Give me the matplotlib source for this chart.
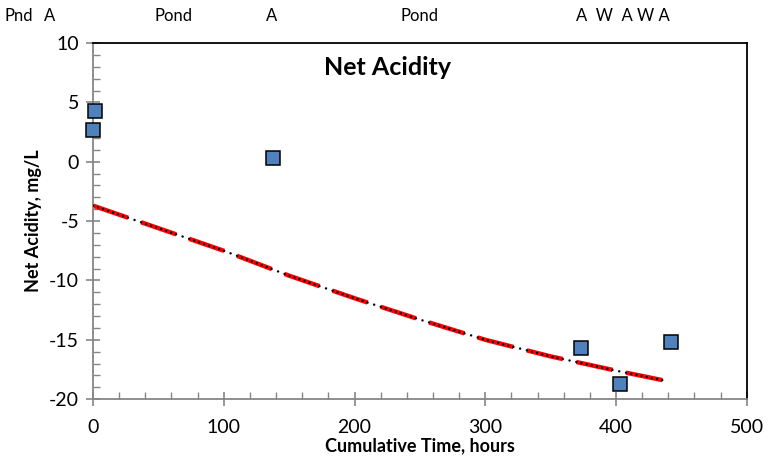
import numpy as np
import matplotlib.pyplot as plt
from matplotlib.ticker import MultipleLocator

plt.rcParams['font.family'] = ['Lato', 'DejaVu Sans']
plt.rcParams['lines.scale_dashes'] = False
plt.rcParams['axes.unicode_minus'] = False

# measured net acidity
time_h = [1.5, 0, 138, 373, 403, 442]
acidity = [4.3, 2.7, 0.35, -15.7, -18.7, -15.2]

# trend line
trend_t = [0, 50, 100, 150, 200, 250, 300, 350, 400, 440]
trend_y = [-3.7, -5.6, -7.5, -9.6, -11.5, -13.3, -15.0, -16.4, -17.6, -18.5]

# treatment labels along the top
phase_labels = ['Pnd', 'A', 'Pond', 'A', 'Pond', 'A  W  A W A']
phase_px = [5, 44, 155, 266, 400, 576]

fig = plt.figure(figsize=(7.69, 4.63), dpi=100)
ax = fig.add_axes([0.121, 0.138, 0.850, 0.769])

# red dashes with black dots on top (same period: 36.6 pt)
ax.plot(trend_t, trend_y, color='#ff0000', lw=3.2, dashes=(26.7, 9.9),
        solid_capstyle='butt', dash_capstyle='butt', zorder=2)
ax.plot(trend_t, trend_y, color='black', lw=1.8,
        dashes=[0.01, 3.79] * 7 + [0.01, 4.99, 0.01, 4.99],
        dash_capstyle='round', zorder=3)

ax.plot(time_h, acidity, 's', ms=10.5, mfc='#4f81bd', mec='black',
        mew=1.1, zorder=4, clip_on=False)

ax.set_xlim(0, 500)
ax.set_ylim(-20, 10)
ax.xaxis.set_major_locator(MultipleLocator(100))
ax.xaxis.set_minor_locator(MultipleLocator(20))
ax.yaxis.set_major_locator(MultipleLocator(5))
ax.yaxis.set_minor_locator(MultipleLocator(1))

gray = '#868686'
for s in ['left', 'bottom']:
    ax.spines[s].set_color(gray)
    ax.spines[s].set_linewidth(1.3)
for s in ['top', 'right']:
    ax.spines[s].set_color('black')
    ax.spines[s].set_linewidth(1.3)

ax.tick_params(which='major', direction='inout', length=10, width=1.2,
               color=gray, labelsize=14, pad=5)
ax.tick_params(axis='x', which='major', pad=9)
ax.tick_params(which='minor', direction='in', length=5, width=1.0, color=gray)

ax.set_xlabel('Cumulative Time, hours', fontsize=13, fontweight='bold',
              labelpad=1)
ax.set_ylabel('Net Acidity, mg/L', fontsize=13, fontweight='bold',
              labelpad=5)

ax.text(0.45, 0.93, 'Net Acidity', transform=ax.transAxes, ha='center',
        va='center', fontsize=18, fontweight='bold')

for lab, px in zip(phase_labels, phase_px):
    fig.text(px / 769, 1 - 16 / 463, lab, ha='left', va='center',
             fontsize=12)

fig.savefig('out.png', dpi=100)
